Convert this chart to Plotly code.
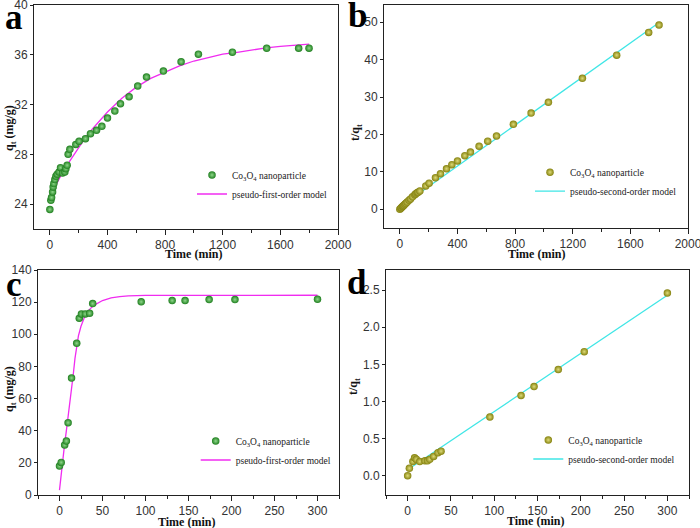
import plotly.graph_objects as go

# ---------------- data ----------------
# panel a: q_t vs time (pseudo-first-order)
t_a = [0, 7, 12, 19, 23, 28, 35, 42, 51, 64, 74, 88, 104, 111, 120, 127, 139, 180, 203,
       247, 282, 324, 361, 400, 451, 490, 550, 610, 671, 788, 911, 1031, 1267, 1505, 1727, 1799]
q_a = [23.57, 24.31, 24.53, 24.98, 25.38, 25.65, 25.97, 26.23, 26.4, 26.58, 26.93, 26.5, 26.58,
       26.85, 27.12, 28.0, 28.4, 28.8, 29.05, 29.26, 29.66, 29.93, 30.25, 30.92, 31.48, 32.07,
       32.63, 33.49, 34.21, 34.69, 35.44, 36.05, 36.21, 36.53, 36.53, 36.53]
fit_t_a = [0, 25, 50, 100, 150, 200, 250, 300, 400, 500, 600, 700, 800, 900, 1000, 1100,
           1200, 1300, 1400, 1500, 1600, 1700, 1800]
fit_q_a = [24.6, 25.2, 25.7, 26.8, 27.7, 28.6, 29.4, 30.1, 31.4, 32.5, 33.4, 34.1, 34.6, 35.1,
           35.5, 35.8, 36.05, 36.2, 36.4, 36.55, 36.68, 36.78, 36.85]

# panel b: t/q_t vs time (pseudo-second-order)
t_b = t_a
tq_b = [0, 0.29, 0.49, 0.76, 0.91, 1.09, 1.35, 1.6, 1.93, 2.41, 2.75, 3.32, 3.91, 4.13, 4.42,
        4.54, 4.89, 6.25, 6.99, 8.44, 9.51, 10.83, 11.93, 12.94, 14.33, 15.28, 16.85, 18.21,
        19.61, 22.72, 25.71, 28.6, 34.99, 41.2, 47.28, 49.25]
fit_t_b = [0, 1800]
fit_tq_b = [0.6, 49.9]

# panel c: q_t vs time (pseudo-first-order)
t_c = [0, 2, 6, 8, 10, 14, 20, 23, 25.5, 30, 35, 38.6, 95, 131, 146, 174, 204, 300]
q_c = [18.0, 20.3, 31.1, 33.6, 45.0, 72.8, 94.4, 110.0, 112.7, 112.7, 113.1, 119.1, 120.2,
       121.0, 121.0, 121.6, 121.6, 121.8]
fit_t_c = [0, 2, 4, 6, 8, 10, 12, 14, 16, 18, 20, 22, 25, 30, 35, 40, 50, 60, 70, 80, 100,
           150, 200, 300]
fit_q_c = [3, 14, 24, 32, 40, 48, 57, 66, 75, 85, 93, 99, 105, 112, 115.5, 118, 121, 122.6,
           123.4, 123.9, 124.2, 124.3, 124.3, 124.3]

# panel d: t/q_t vs time (pseudo-second-order)
t_d = t_c
tq_d = [0.0, 0.1, 0.19, 0.24, 0.22, 0.19, 0.2, 0.2, 0.22, 0.26, 0.31, 0.33, 0.79, 1.08, 1.2,
        1.43, 1.67, 2.46]
fit_t_d = [0, 300]
fit_tq_d = [0.08, 2.43]

legend_pts = "Co<sub>3</sub>O<sub>4</sub> nanoparticle"
name_pfo = "pseudo-first-order model"
name_pso = "pseudo-second-order model"
x_title = "<b>Time (min)</b>"
y_title_q = "<b>q<sub>t</sub> (mg/g)</b>"
y_title_tq = "<b>t/q<sub>t</sub></b>"
panel_letters = ["a", "b", "c", "d"]

GREEN = "#1f7f1f"
GREEN_HI = "#8fd88a"
OLIVE = "#85820f"
OLIVE_HI = "#dedb78"
MAGENTA = "#f02cf0"
CYAN = "#3fe6e6"

W, H = 700, 528


def px_x(a, b):
    return [a / W, b / W]


def px_y(top, bottom):
    return [1 - bottom / H, 1 - top / H]


fig = go.Figure()

panels = [
    (t_a, q_a, fit_t_a, fit_q_a, GREEN, GREEN_HI, MAGENTA, name_pfo, "x", "y", "legend"),
    (t_b, tq_b, fit_t_b, fit_tq_b, OLIVE, OLIVE_HI, CYAN, name_pso, "x2", "y2", "legend2"),
    (t_c, q_c, fit_t_c, fit_q_c, GREEN, GREEN_HI, MAGENTA, name_pfo, "x3", "y3", "legend3"),
    (t_d, tq_d, fit_t_d, fit_tq_d, OLIVE, OLIVE_HI, CYAN, name_pso, "x4", "y4", "legend4"),
]

for xs, ys, fx, fy, col, hi, lc, lname, xa, ya, lg in panels:
    fig.add_trace(go.Scatter(
        x=fx, y=fy, mode="lines", name=lname, xaxis=xa, yaxis=ya, legend=lg,
        line=dict(color=lc, width=1.3), legendrank=2,
    ))
    fig.add_trace(go.Scatter(
        x=xs, y=ys, mode="markers", name=legend_pts, xaxis=xa, yaxis=ya, legend=lg,
        marker=dict(size=7.5, color=col, line=dict(width=0),
                    gradient=dict(type="radial", color=hi)),
        legendrank=1,
    ))

axis_common = dict(
    showline=True, linecolor="#222", linewidth=1, mirror=True, automargin=False,
    ticks="outside", tickcolor="#222", showgrid=False, zeroline=False,
    ticklabeloverflow="allow",
    tickfont=dict(family="Liberation Sans, Arial", size=12, color="#333"),
)
title_font = dict(family="Liberation Serif, Times New Roman", size=12, color="#111")
minor_x = dict(ticks="outside", ticklen=3, tickcolor="#222")

xdom = {"a": px_x(34, 338), "b": px_x(384, 688), "c": px_x(38, 339), "d": px_x(386, 689)}
ydom = {"a": px_y(5, 229), "b": px_y(5, 228), "c": px_y(270, 495), "d": px_y(270, 495)}

fig.update_layout(
    template="none",
    width=W, height=H, margin=dict(l=0, r=0, t=0, b=0),
    paper_bgcolor="white", plot_bgcolor="white",
    xaxis=dict(domain=xdom["a"], anchor="y", range=[-110, 2000], dtick=400, tick0=0,
               ticklen=5, minor=dict(dtick=200, **minor_x), **axis_common),
    yaxis=dict(domain=ydom["a"], anchor="x", range=[22, 40], dtick=4, tick0=0, ticklen=3,
               **axis_common),
    xaxis2=dict(domain=xdom["b"], anchor="y2", range=[-110, 2000], dtick=400, tick0=0,
                ticklen=5, minor=dict(dtick=200, **minor_x), **axis_common),
    yaxis2=dict(domain=ydom["b"], anchor="x2", range=[-5, 54.6], dtick=10, tick0=0, ticklen=3,
                **axis_common),
    xaxis3=dict(domain=xdom["c"], anchor="y3", range=[-25, 325], dtick=50, tick0=0,
                ticklen=5, minor=dict(dtick=25, **minor_x), **axis_common),
    yaxis3=dict(domain=ydom["c"], anchor="x3", range=[0, 140], dtick=20, tick0=0, ticklen=3,
                **axis_common),
    xaxis4=dict(domain=xdom["d"], anchor="y4", range=[-25, 325], dtick=50, tick0=0,
                ticklen=5, minor=dict(dtick=25, **minor_x), **axis_common),
    yaxis4=dict(domain=ydom["d"], anchor="x4", range=[-0.26, 2.77], dtick=0.5, tick0=0,
                tickformat=".1f", ticklen=3, **axis_common),
)

leg_font = dict(family="Liberation Serif, Times New Roman", size=9.5, color="#222")
legend_common = dict(bgcolor="rgba(0,0,0,0)", borderwidth=0, font=leg_font,
                     xanchor="left", yanchor="middle", itemwidth=30, traceorder="normal")
fig.update_layout(
    legend=dict(x=192 / W, y=1 - 184.5 / H, **legend_common),
    legend2=dict(x=530 / W, y=1 - 181.7 / H, **legend_common),
    legend3=dict(x=195.7 / W, y=1 - 450.5 / H, **legend_common),
    legend4=dict(x=528.3 / W, y=1 - 449.5 / H, **legend_common),
)

# axis titles (placed as text at measured positions)
x_title_pos = [(193.7, 254.3), (536.3, 254), (186, 521.7), (535.5, 520.7)]
for cx, cy in x_title_pos:
    fig.add_annotation(text=x_title, xref="paper", yref="paper", x=cx / W, y=1 - cy / H,
                       xanchor="center", yanchor="middle", showarrow=False, font=title_font)

y_title_pos = [(y_title_q, 10, 128), (y_title_tq, 356, 133), (y_title_q, 10, 389),
               (y_title_tq, 354, 386)]
for txt, cx, cy in y_title_pos:
    fig.add_annotation(text=txt, xref="paper", yref="paper", x=cx / W, y=1 - cy / H,
                       xanchor="center", yanchor="middle", textangle=-90,
                       showarrow=False, font=title_font)

letter_font = dict(family="Liberation Serif, Times New Roman", size=35, color="black")
for txt, cx, cy in zip(panel_letters, [14, 357, 14, 357], [17, 15, 284, 282]):
    fig.add_annotation(text="<b>%s</b>" % txt, xref="paper", yref="paper",
                       x=cx / W, y=1 - cy / H, xanchor="center", yanchor="middle",
                       showarrow=False, font=letter_font)

fig.write_html("out.html", config={"displayModeBar": False},
               post_script="document.body.style.margin='0';")
